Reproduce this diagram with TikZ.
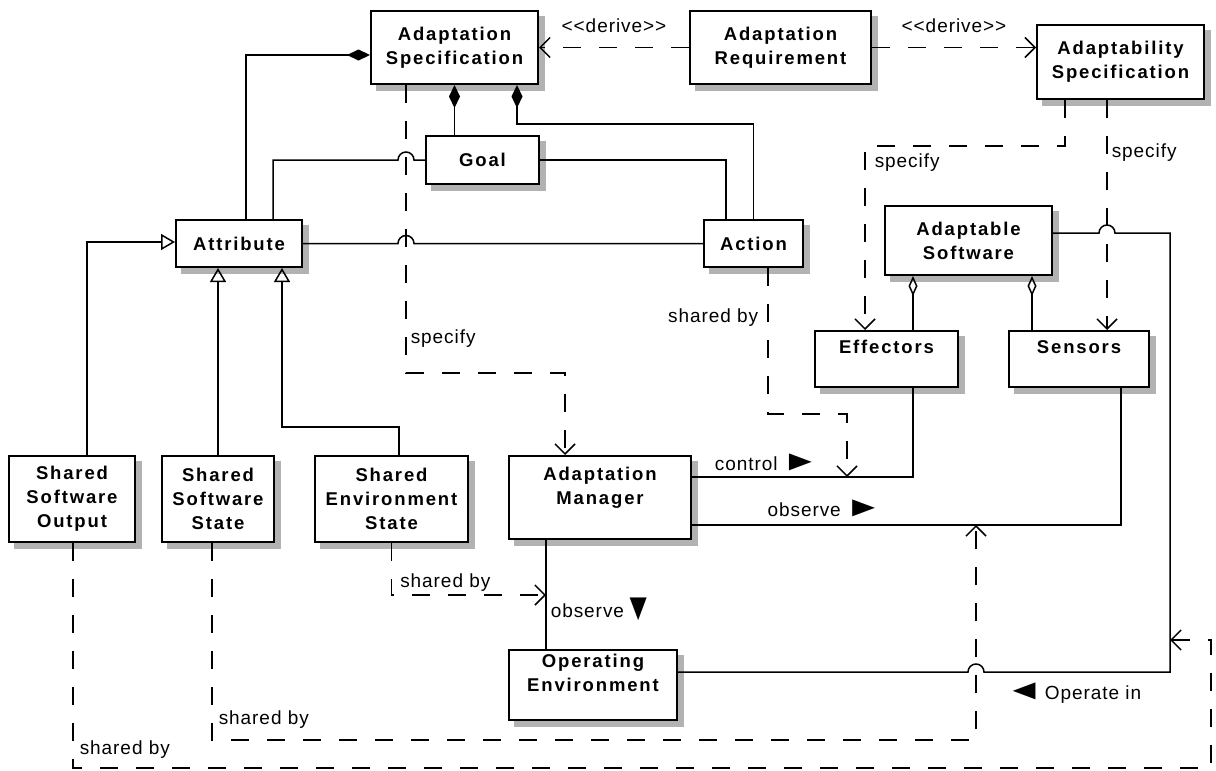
\documentclass[tikz,border=0pt]{standalone}
\usepackage{fontspec}
\setmainfont{Liberation Sans}[LetterSpace=5,BoldFeatures={LetterSpace=10}]
\usepackage{graphicx}
\usetikzlibrary{arrows.meta,backgrounds}

\newcommand{\rtri}{\scalebox{2}[1.5]{►}}
\newcommand{\ltri}{\scalebox{2}[1.5]{◄}}

\begin{document}
\begin{tikzpicture}[x=1pt,y=-1pt,
  box/.style={draw,line width=2pt,fill=white,align=center,inner sep=0pt,
    font=\fontsize{18.5}{24}\selectfont\bfseries},
  lbl/.style={font=\fontsize{19}{24}\selectfont,inner sep=1pt},
  lnk/.style={line width=1.5pt},
  dep/.style={lnk,dash pattern=on 18pt off 18pt,-{Straight Barb[length=10pt,width=20pt]}},
  comp/.style={lnk,{Diamond[length=23pt,width=11pt]}-},
  aggr/.style={lnk,{Diamond[open,length=20pt,width=9pt]}-},
  gen/.style={lnk,-{Triangle[open,length=14pt,width=16pt]}}]
\useasboundingbox (0,0) rectangle (1216,771);

% classes
\node[box,minimum width=167pt,minimum height=73pt] (spec) at (454.5,47.5) {Adaptation\\Specification};
\node[box,minimum width=181pt,minimum height=73pt] (req) at (780.5,47.5) {Adaptation\\Requirement};
\node[box,minimum width=167pt,minimum height=74pt] (ability) at (1120.5,62) {Adaptability\\Specification};
\node[box,minimum width=113pt,minimum height=48pt] (goal) at (482.5,160) {Goal};
\node[box,minimum width=99pt,minimum height=47pt] (action) at (753.5,243.5) {Action};
\node[box,minimum width=126pt,minimum height=47pt] (attr) at (239,243.5) {Attribute};
\node[box,minimum width=167pt,minimum height=69pt] (soft) at (968.5,240.5) {Adaptable\\Software};
\node[box,minimum width=143pt,minimum height=56pt] (eff) at (886.5,359) {Effectors\\\mbox{}};
\node[box,minimum width=140pt,minimum height=56pt] (sens) at (1079,359) {Sensors\\\mbox{}};
\node[box,minimum width=126pt,minimum height=86pt] (out) at (72,499) {Shared\\Software\\Output};
\node[box,minimum width=112pt,minimum height=86pt] (state) at (218,499) {Shared\\Software\\State};
\node[box,minimum width=153pt,minimum height=86pt] (env) at (391.5,499) {Shared\\Environment\\State};
\node[box,minimum width=182pt,minimum height=83pt] (mgr) at (600,497.5) {Adaptation\\Manager\\\mbox{}};
\node[box,minimum width=168pt,minimum height=70pt] (openv) at (593,685) {Operating\\Environment\\\mbox{}};

% shadows
\begin{scope}[on background layer]
\foreach \n in {spec,req,ability,goal,action,attr,soft,eff,sens,out,state,env,mgr,openv}
  \fill[black!30] ([xshift=6pt,yshift=-6pt]\n.south west) rectangle ([xshift=6pt,yshift=-6pt]\n.north east);
\end{scope}

\coordinate (ctl) at (847,477);
\coordinate (obsup) at (976,525);
\coordinate (obsdn) at (546,595);
\coordinate (opin) at (1170,640);

% composition
\draw[comp] ([yshift=-7.5pt]spec.west) -| ([xshift=7pt]attr.north);
\draw[comp] (spec.south) -- (spec.south |- goal.north);
\draw[comp] ([xshift=62.5pt]spec.south) -- ++(0,39) -| (action.north);

% associations
\draw[lnk] ([xshift=34pt]attr.north) |- (398,160) arc[start angle=180,end angle=0,radius=8pt] -- (goal.west);
\draw[lnk] (attr.east) -- (398,243.5) arc[start angle=180,end angle=0,radius=8pt] -- (action.west);
\draw[lnk] (goal.east) -| ([xshift=-27.5pt]action.north);

% generalisation
\draw[gen] ([xshift=15pt]out.north) |- ([yshift=1.5pt]attr.west);
\draw[gen] (state.north) -- (state.north |- attr.south);
\draw[gen] ([xshift=7.5pt]env.north) -- ++(0,-28) -| ([xshift=43pt]attr.south);

% derive
\draw[dep] (req.west) -- (spec.east) node[lbl,midway,anchor=south,yshift=13pt] {<{}<derive>{}>};
\draw[dep] (req.east) -- (req.east -| ability.west) node[lbl,midway,anchor=south,yshift=13pt] {<{}<derive>{}>};

% specify
\draw[dep] ([xshift=-55.5pt]ability.south) -- ++(0,46) -| ([xshift=-21.5pt]eff.north) node[lbl,pos=.546,anchor=west,xshift=8pt] {specify};
\draw[dep] ([xshift=-13.5pt]ability.south) -- ([xshift=28pt]sens.north) node[lbl,pos=.23,anchor=west,xshift=3pt] {specify};
\draw[dep] ([xshift=-48.5pt]spec.south) -- ++(0,288) node[lbl,pos=.88,anchor=west,xshift=3pt] {specify} -| ([xshift=-35pt]mgr.north);

% aggregation
\draw[aggr] ([xshift=-55.5pt]soft.south) -- ([xshift=26.5pt]eff.north);
\draw[aggr] ([xshift=63.5pt]soft.south) -- ([xshift=-47pt]sens.north);

% control and observe
\draw[lnk] ([xshift=26.5pt]eff.south) |- ([yshift=20.5pt]mgr.east) node[lbl,pos=.83,anchor=south,yshift=4pt] {control\kern4pt\rtri};
\draw[lnk] ([xshift=42pt]sens.south) |- ([yshift=-27.5pt]mgr.east) node[lbl,pos=.845,anchor=south,yshift=6pt] {observe\kern4pt\rtri};
\draw[lnk] ([xshift=-54pt]mgr.south) -- ([xshift=-47pt]openv.north) node[lbl,pos=.64,anchor=west,xshift=3pt] {observe \rotatebox[origin=c]{-90}{\rtri}};
\draw[lnk] ([yshift=7.5pt]soft.east) -- (1099,233) arc[start angle=180,end angle=0,radius=8pt] -- (1170,233) -- (1170,672) -- (984,672) node[lbl,pos=.52,anchor=north,yshift=-9pt] {\ltri\kern2pt Operate in} arc[start angle=0,end angle=180,radius=8pt] -- ([yshift=13pt]openv.east);

% shared by
\draw[dep] ([xshift=14.5pt]action.south) |- (847,414) node[lbl,pos=.17,anchor=east,xshift=-8pt] {shared by} -- (ctl);
\draw[dep] (env.south) |- (obsdn) node[lbl,pos=.5,anchor=south west,xshift=7pt,yshift=2pt] {shared by};
\draw[dep] ([xshift=-6pt]state.south) |- (976,740) node[lbl,pos=.447,anchor=west,xshift=5pt] {shared by} -- (obsup);
\draw[dep] ([xshift=1pt]out.south) |- (1211,768) node[lbl,pos=.46,anchor=west,xshift=5pt] {shared by} |- (opin);
\end{tikzpicture}
\end{document}
